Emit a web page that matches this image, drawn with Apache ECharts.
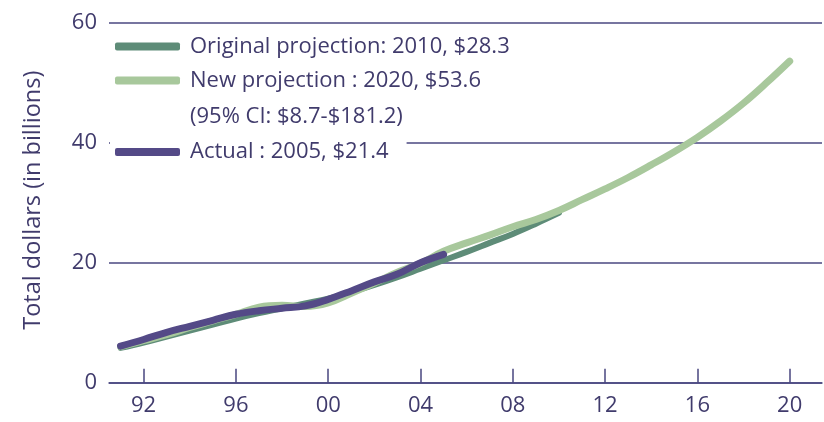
<!DOCTYPE html>
<html>
<head>
<meta charset="utf-8">
<script src="https://cdn.jsdelivr.net/npm/echarts@6/dist/echarts.min.js"></script>
<style>
html,body{margin:0;padding:0;background:#fff;}
#chart{width:824px;height:422px;}
</style>
</head>
<body>
<div id="chart"></div>
<script>
// ---- data ----
const yearsActual = [1991,1992,1993,1994,1995,1996,1997,1998,1999,2000,2001,2002,2003,2004,2005];
const actualValues = [6.1,7.2,8.4,9.4,10.4,11.4,12.0,12.4,12.8,13.9,15.3,16.8,18.1,20.0,21.4];

const yearsOriginal = [1991,1992,1993,1994,1995,1996,1997,1998,1999,2000,2001,2002,2003,2004,2005,2006,2007,2008,2009,2010];
const originalValues = [5.8,6.7,7.7,8.7,9.7,10.7,11.6,12.4,13.2,14.0,15.1,16.3,17.6,19.0,20.4,21.8,23.3,24.8,26.5,28.3];

const yearsNew = [1991,1992,1993,1994,1995,1996,1997,1998,1999,2000,2001,2002,2003,2004,2005,2006,2007,2008,2009,2010,2011,2012,2013,2014,2015,2016,2017,2018,2019,2020];
const newValues = [6.0,7.0,8.0,9.2,10.3,11.4,12.6,12.9,12.7,13.3,14.9,16.6,18.4,19.9,21.9,23.3,24.6,26.0,27.2,28.7,30.5,32.3,34.2,36.3,38.5,40.9,43.6,46.6,50.0,53.6];

const xTickValues = [1992,1996,2000,2004,2008,2012,2016,2020];
const xTickLabels = ['92','96','00','04','08','12','16','20'];

const seriesNames = ['Original projection: 2010, $28.3', 'New projection : 2020, $53.6', 'Actual : 2005, $21.4'];
const ciNote = '(95% CI: $8.7-$181.2)';
const yAxisTitle = 'Total dollars (in billions)';

// ---- chart ----
const FONT = '"Open Sans", sans-serif';
const TXT = '#403b6c';
const GRID = '#4a4780';
const C_ORIG = '#5e8c78';
const C_NEW = '#a8c89c';
const C_ACT = '#544a87';

const zip = (xs, ys) => xs.map((x, i) => [x, ys[i]]);

const chart = echarts.init(document.getElementById('chart'), null, {renderer: 'canvas'});
chart.setOption({
  animation: false,
  backgroundColor: '#fff',
  textStyle: {fontFamily: FONT},
  grid: {left: 109, right: 2, top: 22.7, bottom: 39.3, containLabel: false},
  xAxis: {
    type: 'value',
    min: 1990.5,
    max: 2021.4,
    axisLine: {show: true, lineStyle: {color: GRID, width: 1.5}},
    axisTick: {show: true, inside: true, length: 14, lineStyle: {color: GRID, width: 1.5}, customValues: xTickValues},
    axisLabel: {
      customValues: xTickValues,
      color: TXT, fontSize: 22, fontFamily: FONT, margin: 12,
      formatter: v => xTickLabels[xTickValues.indexOf(Math.round(v))] || ''
    },
    splitLine: {show: false}
  },
  yAxis: {
    type: 'value',
    min: 0, max: 60, interval: 20,
    name: yAxisTitle,
    nameLocation: 'middle',
    nameGap: 64,
    nameTextStyle: {color: TXT, fontSize: 23.5, fontFamily: FONT, padding: [0, 0, 0, 5]},
    axisLine: {show: false},
    axisTick: {show: false},
    axisLabel: {color: TXT, fontSize: 22, fontFamily: FONT, margin: 12},
    splitLine: {show: true, lineStyle: {color: GRID, width: 1.5}}
  },
  legend: [
    {
      data: [seriesNames[0], seriesNames[1]],
      orient: 'vertical',
      left: 110, top: 30.5,
      padding: [4, 5, 4, 5],
      itemWidth: 65, itemHeight: 8, itemGap: 10,
      icon: 'roundRect',
      textStyle: {color: TXT, fontSize: 22, fontFamily: FONT, lineHeight: 24, padding: [0, 0, 0, 5]},
      backgroundColor: '#fff'
    },
    {
      data: [seriesNames[2]],
      orient: 'vertical',
      left: 110, top: 131,
      padding: [9, 18, 9, 5],
      itemWidth: 65, itemHeight: 8,
      icon: 'roundRect',
      textStyle: {color: TXT, fontSize: 22, fontFamily: FONT, lineHeight: 24, padding: [0, 0, 0, 5]},
      backgroundColor: '#fff'
    }
  ],
  graphic: [{
    type: 'text', left: 190, top: 104.5, z: 10,
    style: {text: ciNote, fill: TXT, fontSize: 22, fontFamily: FONT, lineHeight: 24}
  }],
  series: [
    {
      name: seriesNames[0], type: 'line', data: zip(yearsOriginal, originalValues),
      smooth: 0.4, showSymbol: false, z: 2,
      lineStyle: {color: C_ORIG, width: 6, cap: 'round', join: 'round'},
      itemStyle: {color: C_ORIG}
    },
    {
      name: seriesNames[1], type: 'line', data: zip(yearsNew, newValues),
      smooth: 0.4, showSymbol: false, z: 3,
      lineStyle: {color: C_NEW, width: 7, cap: 'round', join: 'round'},
      itemStyle: {color: C_NEW}
    },
    {
      name: seriesNames[2], type: 'line', data: zip(yearsActual, actualValues),
      smooth: 0.4, showSymbol: false, z: 4,
      lineStyle: {color: C_ACT, width: 7, cap: 'round', join: 'round'},
      itemStyle: {color: C_ACT}
    }
  ]
});
</script>
</body>
</html>
